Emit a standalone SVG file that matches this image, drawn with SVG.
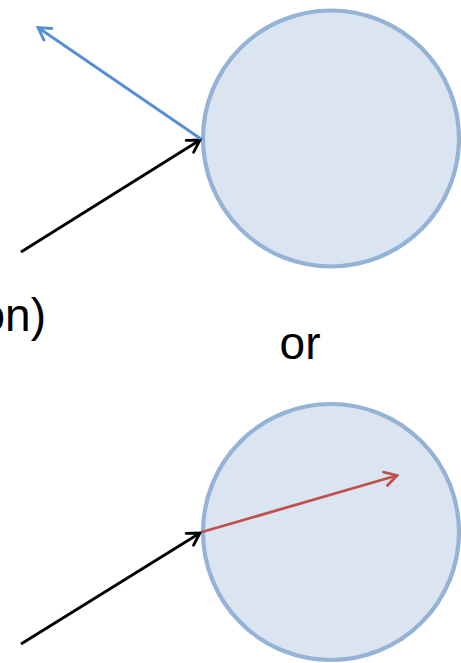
<svg xmlns="http://www.w3.org/2000/svg" width="461" height="663" viewBox="0 0 461 663">
  <style>
    .ball { fill: #DBE5F1; stroke: #95B3D7; stroke-width: 4.2; }
    .line { fill: none; stroke-width: 2.8; stroke-linecap: butt; }
    .lbl { font-family: "Liberation Sans", Arial, sans-serif; font-size: 46px; fill: #000000; }
    .head { fill: none; stroke-width: 2.8; stroke-linejoin: miter; stroke-linecap: round; }
  </style>
  <defs>
    <marker id="ahBlack" markerUnits="userSpaceOnUse" viewBox="0 0 16 16" refX="14" refY="8" markerWidth="16" markerHeight="16" orient="auto" overflow="visible">
      <path class="head" d="M2,1 L14,8 L2,15" stroke="#000000"/>
    </marker>
    <marker id="ahBlue" markerUnits="userSpaceOnUse" viewBox="0 0 16 16" refX="14" refY="8" markerWidth="16" markerHeight="16" orient="auto" overflow="visible">
      <path class="head" d="M2,1 L14,8 L2,15" stroke="#558ED5"/>
    </marker>
    <marker id="ahRed" markerUnits="userSpaceOnUse" viewBox="0 0 16 16" refX="14" refY="8" markerWidth="16" markerHeight="16" orient="auto" overflow="visible">
      <path class="head" d="M2,1 L14,8 L2,15" stroke="#C0504D"/>
    </marker>
  </defs>

  <g id="ball-top">
    <circle class="ball" cx="331" cy="138.5" r="128"/>
  </g>
  <g id="ball-bottom">
    <circle class="ball" cx="331" cy="532" r="128"/>
  </g>

  <g id="connectors">
    <line class="line" x1="21" y1="252" x2="200" y2="140" stroke="#000000" marker-end="url(#ahBlack)"/>
    <line class="line" x1="201" y1="139" x2="38" y2="27.5" stroke="#558ED5" marker-end="url(#ahBlue)"/>
    <line class="line" x1="21" y1="644" x2="200" y2="533" stroke="#000000" marker-end="url(#ahBlack)"/>
    <line class="line" x1="202" y1="532" x2="397" y2="475.5" stroke="#C0504D" marker-end="url(#ahRed)"/>
  </g>

  <g id="labels">
    <text class="lbl" x="46" y="331" text-anchor="end">on)</text>
    <text class="lbl" x="300" y="359" text-anchor="middle">or</text>
  </g>
</svg>
